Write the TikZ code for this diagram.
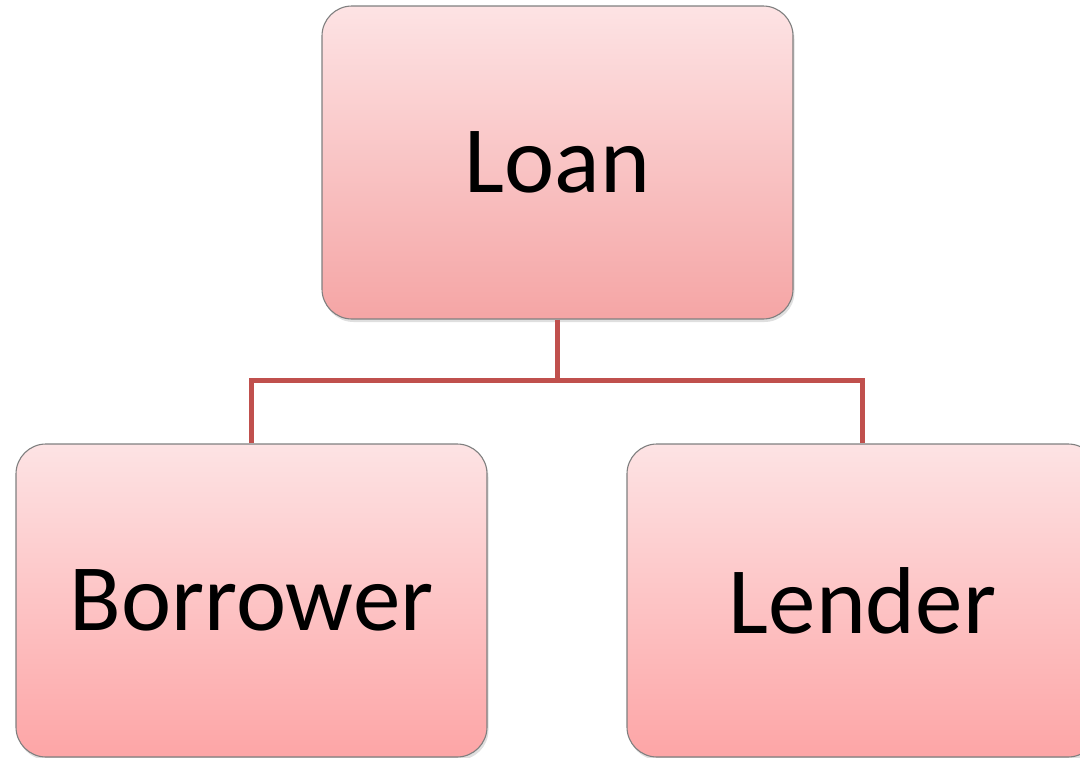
\documentclass[tikz,border=0pt]{standalone}
\usepackage{fontspec}
\setmainfont{Carlito}
\usetikzlibrary{shadows}
\definecolor{boxtop}{HTML}{FDE3E4}
\definecolor{boxbottom}{HTML}{F5A5A5}
\definecolor{leafbottom}{HTML}{FDA5A6}
\definecolor{boxedge}{HTML}{7F7F7F}
\definecolor{linkred}{HTML}{C0504D}
\begin{document}
\begin{tikzpicture}[x=1pt,y=-1pt,
  orgbox/.style={draw=boxedge, line width=1.1pt, rounded corners=30pt,
    top color=boxtop, bottom color=boxbottom,
    minimum width=471pt, minimum height=313pt, inner sep=0pt,
    font=\fontsize{95}{104}\selectfont,
    drop shadow={opacity=0.25, shadow xshift=1.5pt, shadow yshift=-3pt}},
  leafbox/.style={orgbox, bottom color=leafbottom},
  link/.style={draw=linkred, line width=5pt, line join=miter}]
  \useasboundingbox (0,0) rectangle (1080,758);
  \clip (0,0) rectangle (1080,758);
  % boxes
  \node[orgbox] (loan) at (557.5,162.5) {Loan};
  \node[leafbox] (borrower) at (251.5,600.5) {Borrower};
  \node[leafbox] (lender) at (862.5,600.5) {Lender};
  % tree connector
  \coordinate (junc) at (loan.south |- 0,381);
  \draw[link] (loan.south) -- (junc);
  \draw[link] (borrower.north) -- ++(0,-63) -| (lender.north);
\end{tikzpicture}
\end{document}
